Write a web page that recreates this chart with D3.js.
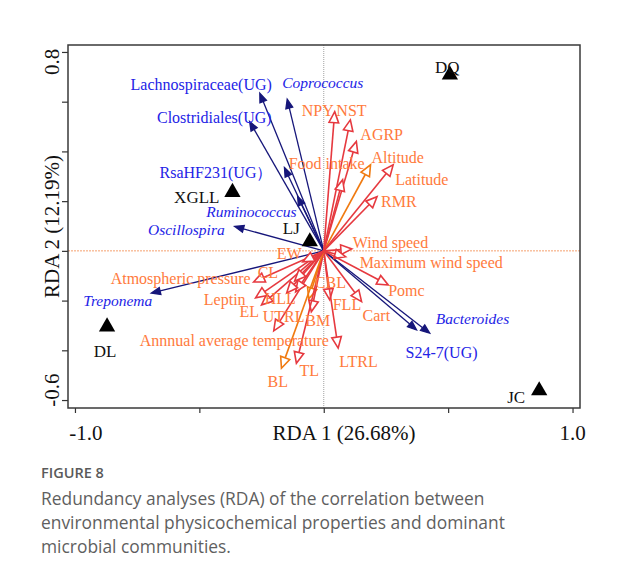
<!DOCTYPE html>
<html>
<head>
<meta charset="utf-8">
<script src="https://cdn.jsdelivr.net/npm/d3@7"></script>
<style>
  html, body { margin: 0; padding: 0; background: #fff; }
  svg { display: block; }
</style>
</head>
<body>
<svg id="chart" width="620" height="581"></svg>
<script>
// ---------- DATA ----------
const speciesNames = ["Lachnospiraceae(UG)", "Coprococcus", "Clostridiales(UG)", "RsaHF231(UG）",
  "Ruminococcus", "Oscillospira", "Treponema", "Bacteroides", "S24-7(UG)"];
const speciesRDA1 = [-0.257, -0.147, -0.298, -0.158, -0.105, -0.358, -0.693, 0.426, 0.373];
const speciesRDA2 = [0.634, 0.610, 0.520, 0.335, 0.219, 0.098, -0.170, -0.331, -0.318];
const speciesItalic = [false, true, false, false, true, true, true, true, false];

const envNames = ["NPY", "NST", "AGRP", "Altitude", "Latitude", "RMR", "Food intake", "Wind speed",
  "Maximum wind speed", "Pomc", "Cart", "FLL", "LTRL", "CBL", "BM", "TL", "BL",
  "Annnual average temperature", "UTRL", "HLL", "EL", "Leptin", "Atmospheric pressure", "CL", "EW"];
const envRDA1 = [0.044, 0.107, 0.131, 0.188, 0.279, 0.214, 0.076, 0.113, 0.088, 0.259, 0.152, 0.024, 0.058,
  -0.060, -0.050, -0.110, -0.170, -0.201, -0.113, -0.149, -0.250, -0.274, -0.282, -0.117, -0.084];
const envRDA2 = [0.560, 0.527, 0.440, 0.346, 0.346, 0.218, 0.286, 0.008, -0.024, -0.137, -0.204, -0.197, -0.391,
  -0.193, -0.245, -0.452, -0.472, -0.322, -0.165, -0.169, -0.217, -0.189, -0.125, -0.121, -0.044];
const envGroup = ["r","r","r","o","r","r","r","r","r","r","r","r","r","o","r","r","o","r","r","r","r","r","r","r","r"];

const siteNames = ["DQ", "XGLL", "LJ", "DL", "JC"];
const siteRDA1 = [0.507, -0.367, -0.056, -0.871, 0.866];
const siteRDA2 = [0.708, 0.236, 0.037, -0.305, -0.562];

const xTickValues = [-1.0, -0.5, 0, 0.5, 1.0];
const xTickLabels = ["-1.0", "", "", "", "1.0"];
const yTickValues = [0.8, 0.6, 0.4, 0.2, 0, -0.2, -0.4, -0.6];
const yTickLabels = ["0.8", "", "", "", "", "", "", "-0.6"];
const xTitle = "RDA 1 (26.68%)";
const yTitle = "RDA 2 (12.19%)";
const figLabel = "FIGURE 8";
const captionLines = ["Redundancy analyses (RDA) of the correlation between",
  "environmental physicochemical properties and dominant",
  "microbial communities."];

// ---------- LAYOUT (label offsets from arrow tips, px) ----------
const speciesLabelLayout = [
  {dx: 12, dy: -3, a: "end"}, {dx: -5, dy: -11, a: "start"}, {dx: 22, dy: 1, a: "end"},
  {dx: -12, dy: 10, a: "end"}, {dx: -1, dy: 21, a: "end"}, {dx: -10, dy: 8, a: "end"},
  {dx: 1, dy: 13, a: "end"}, {dx: 6, dy: -9, a: "start"}, {dx: -11, dy: 28, a: "start"}];
const envLabelLayout = [
  {dx: -1, dy: 4, a: "end"}, {dx: -14, dy: -4, a: "start"}, {dx: 4, dy: -1, a: "start"},
  {dx: 1, dy: -2, a: "start"}, {dx: 2, dy: 20, a: "start"}, {dx: 4, dy: 10, a: "start"},
  {dx: -54, dy: -11, a: "start"}, {dx: 1, dy: -1, a: "start"}, {dx: 14, dy: 11, a: "start"},
  {dx: 0, dy: 11, a: "start"}, {dx: 1, dy: 19, a: "start"}, {dx: 3, dy: 10, a: "start"},
  {dx: 1, dy: 19, a: "start"}, {dx: 6, dy: -11, a: "start"}, {dx: -6, dy: 14, a: "start"},
  {dx: 3, dy: 13, a: "start"}, {dx: -14, dy: 19, a: "start"}, {dx: -134, dy: 15, a: "start"},
  {dx: -33, dy: 30, a: "start"}, {dx: -22, dy: 11, a: "start"}, {dx: -22, dy: 12, a: "start"},
  {dx: -10, dy: 7, a: "end"}, {dx: -3, dy: 2, a: "end"}, {dx: -37, dy: -3, a: "start"},
  {dx: -26, dy: -3, a: "start"}];
const siteLabelLayout = [
  {dx: -15, dy: -2, a: "start"}, {dx: -13, dy: 11, a: "end"}, {dx: -27, dy: -8, a: "start"},
  {dx: -2, dy: 30, a: "middle"}, {dx: -14, dy: 12, a: "end"}];

// ---------- CHART ----------
const svg = d3.select("#chart");
const serif = "'Liberation Serif', 'Times New Roman', serif";
const plot = {left: 68, right: 580, top: 45, bottom: 408};

const x = d3.scaleLinear().domain([-1.028, 1.030]).range([plot.left, plot.right]);
const y = d3.scaleLinear().domain([-0.632, 0.828]).range([plot.bottom, plot.top]);

const RED = "#e6393f", ORANGE = "#f07a10", NAVY = "#16167a";
const ORANGE_TXT = "#ff7a3c", BLUE_TXT = "#2323e6";

// zero lines
svg.append("line").attr("x1", x(0)).attr("x2", x(0)).attr("y1", plot.top).attr("y2", plot.bottom)
  .attr("stroke", "#8a8a8a").attr("stroke-width", 0.8).attr("stroke-dasharray", "1,1");
svg.append("line").attr("x1", plot.left).attr("x2", plot.right).attr("y1", y(0)).attr("y2", y(0))
  .attr("stroke", "#f2884a").attr("stroke-width", 0.8).attr("stroke-dasharray", "2,1");

// axes (ticks outward)
const xAxis = d3.axisBottom(x).tickValues(xTickValues).tickSize(5).tickFormat("");
const yAxis = d3.axisLeft(y).tickValues(yTickValues).tickSize(6).tickFormat("");
const gx = svg.append("g").attr("transform", `translate(0,${plot.bottom})`).call(xAxis);
const gy = svg.append("g").attr("transform", `translate(${plot.left},0)`).call(yAxis);
[gx, gy].forEach(g => {
  g.select(".domain").remove();
  g.selectAll(".tick line").attr("stroke", "#333").attr("stroke-width", 1.2);
});

// frame
svg.append("rect").attr("x", plot.left).attr("y", plot.top)
  .attr("width", plot.right - plot.left).attr("height", plot.bottom - plot.top)
  .attr("fill", "none").attr("stroke", "#3a3a3a").attr("stroke-width", 1.5);

// tick labels
const xLabOff = [11, 0, 0, 0, 0];
svg.append("g").selectAll("text").data(xTickValues).join("text")
  .attr("x", (d, i) => x(d) + xLabOff[i]).attr("y", 440)
  .attr("text-anchor", "middle").attr("font-family", serif).attr("font-size", 21).attr("fill", "#111")
  .text((d, i) => xTickLabels[i]);
const yLabOff = [10, 0, 0, 0, 0, 0, 0, -10];
svg.append("g").selectAll("text").data(yTickValues).join("text")
  .attr("transform", (d, i) => `translate(59,${y(d) + yLabOff[i]}) rotate(-90)`)
  .attr("text-anchor", "middle").attr("font-family", serif).attr("font-size", 21).attr("fill", "#111")
  .text((d, i) => yTickLabels[i]);

// axis titles
svg.append("text").attr("x", 344).attr("y", 440).attr("text-anchor", "middle")
  .attr("font-family", serif).attr("font-size", 21).attr("fill", "#111").text(xTitle);
svg.append("text").attr("transform", `translate(59,${(plot.top + plot.bottom) / 2}) rotate(-90)`)
  .attr("text-anchor", "middle").attr("font-family", serif).attr("font-size", 21).attr("fill", "#111").text(yTitle);

// arrow helper
function arrow(g, x1, y1, color, headLen, headHalf, filled, width) {
  const x0 = x(0), y0 = y(0);
  const ang = Math.atan2(y1 - y0, x1 - x0);
  const bx = x1 - headLen * Math.cos(ang), by = y1 - headLen * Math.sin(ang);
  g.append("line").attr("x1", x0).attr("y1", y0).attr("x2", bx).attr("y2", by)
    .attr("stroke", color).attr("stroke-width", width);
  const px = -Math.sin(ang), py = Math.cos(ang);
  const pts = [[x1, y1], [bx + px * headHalf, by + py * headHalf], [bx - px * headHalf, by - py * headHalf]];
  g.append("polygon").attr("points", pts.map(p => p.join(",")).join(" "))
    .attr("fill", filled ? color : "#fff").attr("stroke", color).attr("stroke-width", width)
    .attr("stroke-linejoin", "miter");
}

// species arrows
const gSp = svg.append("g");
speciesNames.forEach((n, i) => {
  arrow(gSp, x(speciesRDA1[i]), y(speciesRDA2[i]), NAVY, 9, 3.5, true, 1.3);
});

// environment arrows
const gEnv = svg.append("g");
envNames.forEach((n, i) => {
  arrow(gEnv, x(envRDA1[i]), y(envRDA2[i]), envGroup[i] === "o" ? ORANGE : RED, 11, 4.8, false, 1.6);
});

// site triangles
const tri = d3.symbol().type(d3.symbolTriangle).size(115);
svg.append("g").selectAll("path").data(siteNames).join("path")
  .attr("d", tri)
  .attr("transform", (d, i) => `translate(${x(siteRDA1[i])},${y(siteRDA2[i])})`)
  .attr("fill", "#000");

// env labels
svg.append("g").selectAll("text").data(envNames).join("text")
  .attr("x", (d, i) => x(envRDA1[i]) + envLabelLayout[i].dx)
  .attr("y", (d, i) => y(envRDA2[i]) + envLabelLayout[i].dy)
  .attr("text-anchor", (d, i) => envLabelLayout[i].a)
  .attr("font-family", serif).attr("font-size", 16).attr("fill", ORANGE_TXT)
  .text(d => d);

// species labels
svg.append("g").selectAll("text").data(speciesNames).join("text")
  .attr("x", (d, i) => x(speciesRDA1[i]) + speciesLabelLayout[i].dx)
  .attr("y", (d, i) => y(speciesRDA2[i]) + speciesLabelLayout[i].dy)
  .attr("text-anchor", (d, i) => speciesLabelLayout[i].a)
  .attr("font-family", serif).attr("font-size", (d, i) => speciesItalic[i] ? 15.5 : 16).attr("fill", BLUE_TXT)
  .attr("font-style", (d, i) => speciesItalic[i] ? "italic" : "normal")
  .text(d => d);

// site labels
svg.append("g").selectAll("text").data(siteNames).join("text")
  .attr("x", (d, i) => x(siteRDA1[i]) + siteLabelLayout[i].dx)
  .attr("y", (d, i) => y(siteRDA2[i]) + siteLabelLayout[i].dy)
  .attr("text-anchor", (d, i) => siteLabelLayout[i].a)
  .attr("font-family", serif).attr("font-size", 17).attr("fill", "#111")
  .text(d => d);

// caption
const sans = "'Open Sans', 'Noto Sans', sans-serif";
svg.append("text").attr("x", 41).attr("y", 478).attr("font-family", sans)
  .attr("font-size", 14.5).attr("font-weight", 600).attr("fill", "#5a5a5a").text(figLabel);
svg.append("g").selectAll("text").data(captionLines).join("text")
  .attr("x", 41).attr("y", (d, i) => 505 + i * 24)
  .attr("font-family", sans).attr("font-size", 17.4).attr("fill", "#5f5f5f").text(d => d);
</script>
</body>
</html>
